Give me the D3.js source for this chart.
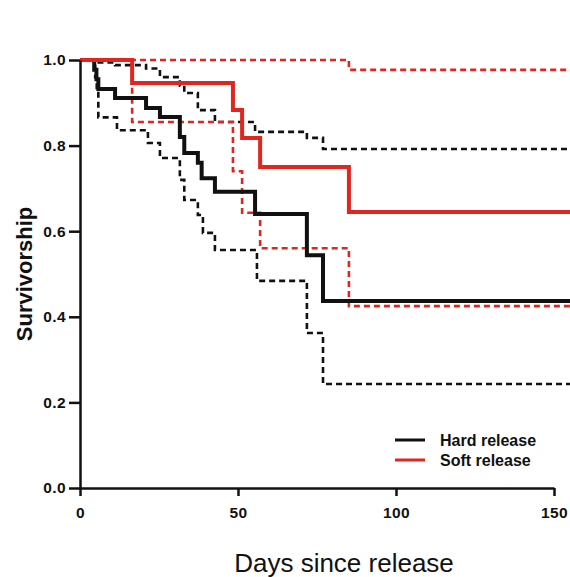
<!DOCTYPE html>
<html>
<head>
<meta charset="utf-8">
<script src="https://cdn.jsdelivr.net/npm/d3@7"></script>
<style>
  body { margin: 0; background: #fff; }
  svg { display: block; font-family: "Liberation Sans", Arial, sans-serif; }
  .axis path, .axis line { stroke: #111; stroke-width: 2.5; }
  .axis text { font-size: 15.5px; font-weight: bold; fill: #111; letter-spacing: 0.4px; }
</style>
</head>
<body>
<svg width="570" height="577"></svg>
<script>
// Kaplan-Meier estimates (days, survivorship)
const hardDays  = [0, 4.5, 5.2, 5.8, 11.1, 20.9, 25.3, 31.6, 33, 37.3, 38.5, 42.7, 55.4, 71.8, 76.9, 160];
const hardSurv  = [1, 0.977, 0.955, 0.932, 0.911, 0.888, 0.867, 0.82, 0.783, 0.76, 0.724, 0.692, 0.64, 0.544, 0.437, 0.437];
const hardLoDays = [0, 4.8, 5.3, 5.8, 11.7, 21.5, 25.3, 31.6, 33, 37.3, 38.9, 42.7, 56, 71.8, 76.9, 160];
const hardLo     = [1, 0.96, 0.93, 0.866, 0.836, 0.806, 0.771, 0.72, 0.673, 0.638, 0.596, 0.556, 0.484, 0.362, 0.243, 0.243];
const hardHiDays = [0, 4.8, 11.1, 20.9, 25.3, 31.6, 33, 37.3, 42.7, 55.4, 71.8, 76.9, 160];
const hardHi     = [1, 0.994, 0.988, 0.98, 0.96, 0.94, 0.923, 0.883, 0.855, 0.832, 0.818, 0.792, 0.792];

const softDays  = [0, 16.5, 48.4, 51.3, 57, 85.1, 160];
const softSurv  = [1, 0.946, 0.883, 0.818, 0.75, 0.645, 0.645];
const softLo    = [1, 0.855, 0.74, 0.643, 0.56, 0.425, 0.425];
const softHiDays = [0, 85.1, 160];
const softHi     = [1, 0.977, 0.977];

const xTicks = [0, 50, 100, 150];
const yTicks = [0, 0.2, 0.4, 0.6, 0.8, 1.0];
const legendLabels = ["Hard release", "Soft release"];

const RED = "#e0261f", BLACK = "#111";

const svg = d3.select("svg");
const x = d3.scaleLinear().domain([0, 150]).range([80, 554]);
const y = d3.scaleLinear().domain([0, 1]).range([488, 60]);

const line = d3.line().x(d => x(d[0])).y(d => y(d[1])).curve(d3.curveStepAfter);
const zip = (a, b) => a.map((v, i) => [v, b[i]]);

let drawStep = (days, vals, color, dashed) => {
    svg.append("path")
        .datum(zip(days, vals))
        .attr("d", line)
        .attr("fill", "none")
        .attr("stroke", color)
        .attr("stroke-width", dashed ? 2.6 : 4)
        .attr("stroke-dasharray", dashed ? "6,4" : null)
        .attr("stroke-linejoin", "miter");
}

// confidence bands first, then estimates
drawStep(hardLoDays, hardLo, BLACK, true);
drawStep(hardHiDays, hardHi, BLACK, true);
drawStep(softDays, softLo, RED, true);
drawStep(softHiDays, softHi, RED, true);
drawStep(hardDays, hardSurv, BLACK, false);
drawStep(softDays, softSurv, RED, false);

svg.append("g")
    .attr("class", "axis")
    .attr("transform", "translate(0," + y(0) + ")")
    .call(d3.axisBottom(x).tickValues(xTicks).tickSize(8).tickSizeOuter(0).tickPadding(11))

svg.append("g")
    .attr("class", "axis")
    .attr("transform", "translate(" + x(0) + ",0)")
    .call(d3.axisLeft(y).tickValues(yTicks).tickFormat(d3.format(".1f")).tickSize(11).tickSizeOuter(0).tickPadding(3))

svg.append("text")
    .attr("transform", "translate(32," + y(0.5) + ") rotate(-90)")
    .attr("text-anchor", "middle")
    .style("font-size", "22px")
    .style("font-weight", "bold")
    .attr("fill", BLACK)
    .text("Survivorship");

svg.append("text")
    .attr("x", 344)
    .attr("y", 572)
    .attr("text-anchor", "middle")
    .style("font-size", "26px")
    .attr("fill", BLACK)
    .text("Days since release");

const legend = svg.append("g").attr("transform", "translate(395,440)");
legendLabels.forEach((label, i) => {
    legend.append("line")
        .attr("x1", 0).attr("x2", 30)
        .attr("y1", i * 20).attr("y2", i * 20)
        .attr("stroke", i ? RED : BLACK)
        .attr("stroke-width", 3);
    legend.append("text")
        .attr("x", 45)
        .attr("y", i * 20 + 6)
        .style("font-size", "16px")
        .style("font-weight", "bold")
        .attr("fill", BLACK)
        .text(label);
});
</script>
</body>
</html>
